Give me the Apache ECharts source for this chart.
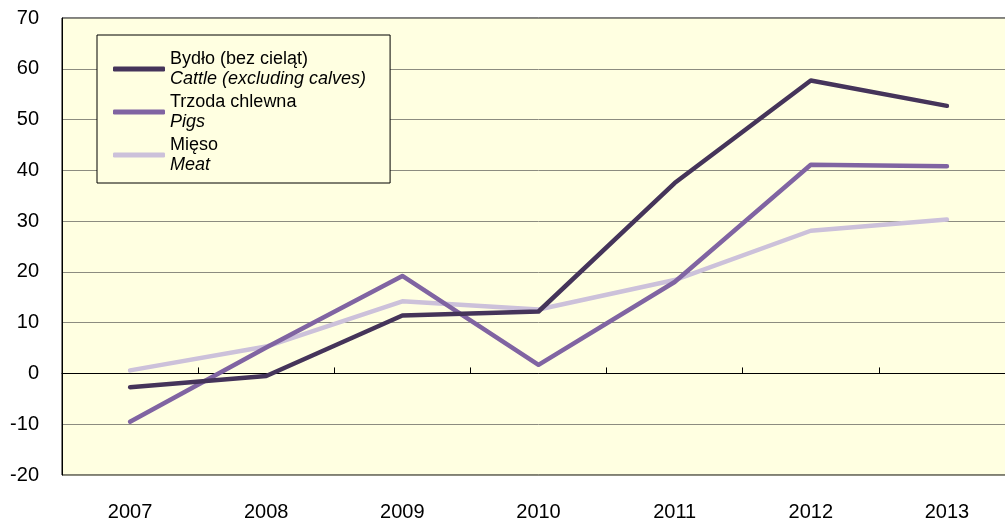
<!DOCTYPE html>
<html>
<head>
<meta charset="utf-8">
<script src="https://cdn.jsdelivr.net/npm/echarts@6/dist/echarts.min.js"></script>
<style>
html,body{margin:0;padding:0;background:#fff;overflow:hidden;width:1005px;height:522px;}
#c{width:1015px;height:522px;}
</style>
</head>
<body>
<div id="c"></div>
<script>
const years = ['2007','2008','2009','2010','2011','2012','2013'];
const cattle = [-2.7, -0.5, 11.4, 12.2, 37.5, 57.7, 52.7];
const pigs = [-9.5, 5.1, 19.2, 1.7, 18.0, 41.1, 40.8];
const meat = [0.6, 5.3, 14.2, 12.6, 18.4, 28.1, 30.3];
const namesPL = ['Bydło (bez cieląt)', 'Trzoda chlewna', 'Mięso'];
const namesEN = ['Cattle (excluding calves)', 'Pigs', 'Meat'];
const colors = ['#45345A', '#8064A2', '#CCC1DA'];
const font = '"Liberation Sans", Arial, sans-serif';

const chart = echarts.init(document.getElementById('c'));
const seriesData = [cattle, pigs, meat];
chart.setOption({
  animation: false,
  textStyle: {fontFamily: font},
  grid: {left: 62, right: 0, top: 18, bottom: 47, show: true,
    backgroundColor: '#FFFFE1', borderColor: '#000', borderWidth: 1},
  legend: {
    orient: 'vertical', left: 97, top: 35,
    padding: [15, 24, 9, 16], itemGap: 5,
    backgroundColor: '#FFFFE1', borderColor: '#000', borderWidth: 1, borderRadius: 0,
    itemWidth: 52, itemHeight: 5, icon: 'roundRect',
    data: namesPL.map(n => ({name: n})),
    formatter: function (name) {
      const i = namesPL.indexOf(name);
      return '{a|' + name + '}\n{b|' + namesEN[i] + '}';
    },
    textStyle: {
      rich: {
        a: {fontSize: 18, lineHeight: 20, color: '#000', fontFamily: font},
        b: {fontSize: 18, lineHeight: 20, color: '#000', fontStyle: 'italic', fontFamily: font}
      }
    }
  },
  xAxis: [{
    type: 'category', data: years, position: 'bottom',
    axisLine: {show: false, onZero: false}, axisTick: {show: false},
    axisLabel: {fontSize: 20, color: '#000', margin: 27, fontFamily: font}
  }, {
    type: 'category', data: years,
    axisLine: {show: true, onZero: true, lineStyle: {color: '#000', width: 1}},
    axisTick: {show: true, length: 6, lineStyle: {color: '#000'}},
    axisLabel: {show: false}
  }],
  yAxis: {
    type: 'value', min: -20, max: 70, interval: 10,
    axisLine: {show: true, lineStyle: {color: '#000'}},
    axisTick: {show: false},
    axisLabel: {fontSize: 20, color: '#000', margin: 23, fontFamily: font},
    splitLine: {show: true, lineStyle: {color: '#8C8C80', width: 1}}
  },
  series: seriesData.map((d, i) => ({
    name: namesPL[i], type: 'line', data: d, xAxisIndex: 0,
    symbol: 'none', lineStyle: {color: colors[i], width: 4.5, cap: 'round', join: 'round'},
    itemStyle: {color: colors[i]}, z: 10 - i
  }))
});
</script>
</body>
</html>
